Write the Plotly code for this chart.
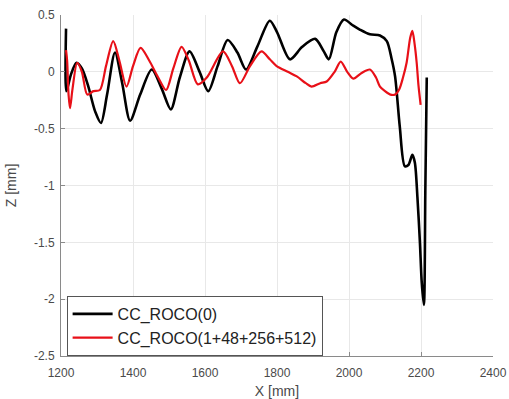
import plotly.graph_objects as go

# CC_ROCO(0) -- black
x_black = [1214, 1215, 1228, 1243, 1258, 1275, 1295, 1311, 1328, 1350, 1370, 1392,
           1420, 1452, 1480, 1505, 1530, 1557, 1585, 1609, 1635, 1663, 1690, 1714,
           1745, 1780, 1800, 1836, 1870, 1906, 1930, 1944, 1965, 1986, 2010, 2031,
           2058, 2086, 2105, 2118, 2128, 2141, 2155, 2165, 2176, 2183, 2190, 2197,
           2202, 2208, 2212, 2216]
z_black = [0.38, -0.17, -0.02, 0.08, 0.03, -0.12, -0.35, -0.45, -0.2, 0.17, -0.1, -0.43,
           -0.2, 0.02, -0.15, -0.33, -0.05, 0.18, 0.0, -0.17, 0.05, 0.28, 0.17, 0.02,
           0.22, 0.45, 0.35, 0.11, 0.22, 0.29, 0.18, 0.11, 0.35, 0.46, 0.41, 0.37,
           0.33, 0.32, 0.27, 0.12, -0.04, -0.48, -0.83, -0.82, -0.73, -0.8, -1.1, -1.5,
           -1.85, -2.05, -1.05, -0.05]

# CC_ROCO(1+48+256+512) -- red
x_red = [1214, 1217, 1221, 1225, 1232, 1245, 1258, 1273, 1290, 1308, 1325, 1345,
         1362, 1382, 1400, 1421, 1445, 1470, 1492, 1512, 1535, 1555, 1580, 1605,
         1650, 1675, 1697, 1725, 1757, 1780, 1799, 1830, 1855, 1880, 1896, 1920,
         1938, 1960, 1977, 1995, 2012, 2035, 2058, 2075, 2086, 2100, 2115, 2128,
         2140, 2150, 2160, 2170, 2176, 2182, 2188, 2193, 2199]
z_red = [0.19, 0.1, -0.2, -0.32, -0.15, 0.08, 0.0, -0.2, -0.17, -0.16, 0.05, 0.27,
         0.1, -0.13, 0.05, 0.21, 0.1, -0.05, -0.16, 0.03, 0.22, 0.1, -0.11, -0.05,
         0.18, 0.05, -0.1, 0.05, 0.18, 0.11, 0.05, 0.0, -0.04, -0.1, -0.13, -0.1,
         -0.085, 0.0, 0.09, 0.0, -0.06, -0.01, 0.02, -0.05, -0.13, -0.17, -0.2, -0.2,
         -0.15, -0.05, 0.08, 0.3, 0.36, 0.25, 0.08, -0.12, -0.29]

x_ticks = [1200, 1400, 1600, 1800, 2000, 2200, 2400]
y_ticks = [-2.5, -2, -1.5, -1, -0.5, 0, 0.5]
y_tick_labels = ["-2.5", "-2", "-1.5", "-1", "-0.5", "0", "0.5"]
names = ["CC_ROCO(0)", "CC_ROCO(1+48+256+512)"]

font_family = "Liberation Sans, Arial, Helvetica, sans-serif"
text_col = "#4a4a4a"

fig = go.Figure()
fig.add_trace(go.Scatter(x=x_black, y=z_black, mode="lines", name=names[0],
                         line=dict(color="black", width=2.6, shape="spline", smoothing=0.8)))
fig.add_trace(go.Scatter(x=x_red, y=z_red, mode="lines", name=names[1],
                         line=dict(color="rgb(232,16,24)", width=2.2, shape="spline", smoothing=0.8)))

fig.update_layout(
    width=509, height=399,
    margin=dict(l=61, r=16, t=15, b=43, autoexpand=False),
    paper_bgcolor="white", plot_bgcolor="white",
    font=dict(family=font_family, color=text_col, size=12),
    showlegend=True,
    legend=dict(x=0.013, y=0.176, xanchor="left", yanchor="top",
                bgcolor="white", bordercolor="#555555", borderwidth=1,
                font=dict(size=16, color="#222222", family=font_family),
                tracegroupgap=0, itemwidth=40),
)
fig.update_xaxes(range=[1200, 2400], tickvals=x_ticks, automargin=False,
                 showgrid=True, gridcolor="#e8e8e8", gridwidth=1,
                 showline=True, linecolor="#8a8a8a", linewidth=1,
                 ticks="inside", ticklen=4, tickcolor="#8a8a8a",
                 ticklabelstandoff=6,
                 zeroline=False, mirror=False,
                 title=dict(text="X [mm]", font=dict(size=14, color=text_col), standoff=10),
                 tickfont=dict(size=12, color=text_col))
fig.update_yaxes(range=[-2.5, 0.5], tickvals=y_ticks, ticktext=y_tick_labels, automargin=False,
                 showgrid=True, gridcolor="#e8e8e8", gridwidth=1,
                 showline=True, linecolor="#8a8a8a", linewidth=1,
                 ticks="inside", ticklen=4, tickcolor="#8a8a8a",
                 ticklabelstandoff=3,
                 zeroline=False, mirror=False,
                 title=dict(text="Z [mm]", font=dict(size=14, color=text_col), standoff=14),
                 tickfont=dict(size=12, color=text_col))

fig.write_html("out.html",
               config={"displayModeBar": False, "staticPlot": True},
               post_script="document.body.style.margin='0';document.body.style.overflow='hidden';")
